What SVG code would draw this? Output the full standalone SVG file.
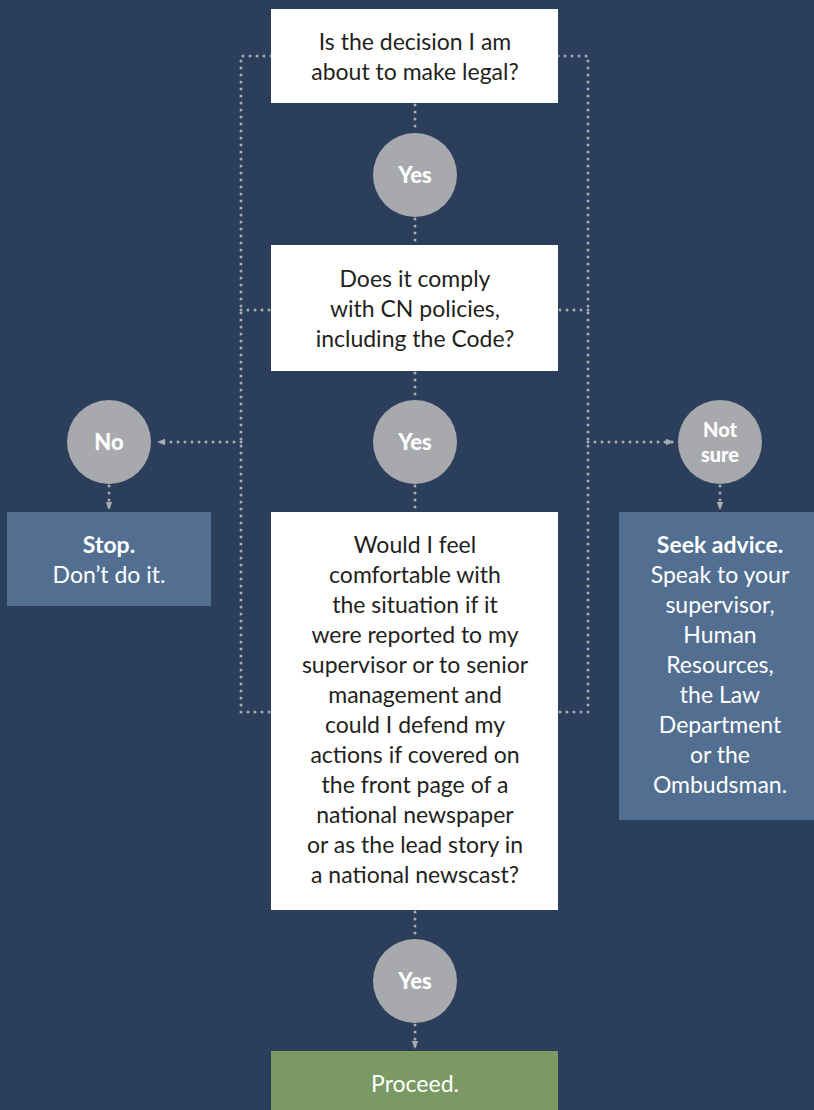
<svg xmlns="http://www.w3.org/2000/svg" width="814" height="1110" viewBox="0 0 814 1110">
<defs>
<style>
.bg{fill:#2b3f5c}
.q{fill:#ffffff}
.act{fill:#526f91}
.go{fill:#7a9963}
.c{fill:#a7a9ac}
.dot{fill:none;stroke:#a9abae;stroke-width:3;stroke-linecap:round;stroke-dasharray:0 7}
.t{font-family:Lato,"Noto Sans",sans-serif;font-size:23px;text-anchor:middle}
.dark{fill:#231f20}
.w{fill:#ffffff}
.b{font-weight:bold}
.cl{font-size:22px;font-weight:900}
.cs{font-size:20px;font-weight:900}
</style>
<marker id="ah" viewBox="0 0 8 8" refX="8" refY="4" markerWidth="8" markerHeight="8" markerUnits="userSpaceOnUse" orient="auto">
<path d="M0,0.8 L8,4 L0,7.2 Z" fill="#a9abae"/>
</marker>
</defs>
<rect class="bg" x="0" y="0" width="814" height="1110"/>
<g id="connectors">
<path class="dot" d="M271,56 H241 V712 H271"/>
<path class="dot" d="M241,310 H271"/>
<path class="dot" d="M558,56 H588 V712 H558"/>
<path class="dot" d="M588,310 H558"/>
<line class="dot" x1="241" y1="442" x2="157" y2="442" marker-end="url(#ah)"/>
<line class="dot" x1="588" y1="442" x2="674" y2="442" marker-end="url(#ah)"/>
<line class="dot" x1="109" y1="486" x2="109" y2="510" marker-end="url(#ah)"/>
<line class="dot" x1="720" y1="486" x2="720" y2="510" marker-end="url(#ah)"/>
<line class="dot" x1="415" y1="105" x2="415" y2="133"/>
<line class="dot" x1="415" y1="219" x2="415" y2="245"/>
<line class="dot" x1="415" y1="373" x2="415" y2="400"/>
<line class="dot" x1="415" y1="486" x2="415" y2="512"/>
<line class="dot" x1="415" y1="912" x2="415" y2="939"/>
<line class="dot" x1="415" y1="1025" x2="415" y2="1049" marker-end="url(#ah)"/>
</g>
<g id="q1">
<rect class="q" x="271" y="9" width="287" height="94"/>
<text class="t dark" x="415" y="50">Is the decision I am</text>
<text class="t dark" x="415" y="80">about to make legal?</text>
</g>
<g id="yes1">
<circle class="c" cx="415" cy="175" r="42"/>
<text class="t w cl" x="415" y="183">Yes</text>
</g>
<g id="q2">
<rect class="q" x="271" y="245" width="287" height="126"/>
<text class="t dark" x="415" y="287">Does it comply</text>
<text class="t dark" x="415" y="317">with CN policies,</text>
<text class="t dark" x="415" y="347">including the Code?</text>
</g>
<g id="yes2">
<circle class="c" cx="415" cy="442" r="42"/>
<text class="t w cl" x="415" y="450">Yes</text>
</g>
<g id="no">
<circle class="c" cx="109" cy="442" r="42"/>
<text class="t w cl" x="109" y="450">No</text>
</g>
<g id="notsure">
<circle class="c" cx="720" cy="442" r="42"/>
<text class="t w cs" x="720" y="437">Not</text>
<text class="t w cs" x="720" y="462">sure</text>
</g>
<g id="stop">
<rect class="act" x="7" y="512" width="204" height="94"/>
<text class="t w b" x="109" y="553">Stop.</text>
<text class="t w" x="109" y="583">Don’t do it.</text>
</g>
<g id="advice">
<rect class="act" x="619" y="512" width="195" height="308"/>
<text class="t w b" x="720" y="553">Seek advice.</text>
<text class="t w" x="720" y="583">Speak to your</text>
<text class="t w" x="720" y="613">supervisor,</text>
<text class="t w" x="720" y="643">Human</text>
<text class="t w" x="720" y="673">Resources,</text>
<text class="t w" x="720" y="703">the Law</text>
<text class="t w" x="720" y="733">Department</text>
<text class="t w" x="720" y="763">or the</text>
<text class="t w" x="720" y="793">Ombudsman.</text>
</g>
<g id="q3">
<rect class="q" x="271" y="512" width="287" height="398"/>
<text class="t dark" x="415" y="553">Would I feel</text>
<text class="t dark" x="415" y="583">comfortable with</text>
<text class="t dark" x="415" y="613">the situation if it</text>
<text class="t dark" x="415" y="643">were reported to my</text>
<text class="t dark" x="415" y="673">supervisor or to senior</text>
<text class="t dark" x="415" y="703">management and</text>
<text class="t dark" x="415" y="733">could I defend my</text>
<text class="t dark" x="415" y="763">actions if covered on</text>
<text class="t dark" x="415" y="793">the front page of a</text>
<text class="t dark" x="415" y="823">national newspaper</text>
<text class="t dark" x="415" y="853">or as the lead story in</text>
<text class="t dark" x="415" y="883">a national newscast?</text>
</g>
<g id="yes3">
<circle class="c" cx="415" cy="981" r="42"/>
<text class="t w cl" x="415" y="989">Yes</text>
</g>
<g id="proceed">
<rect class="go" x="271" y="1051" width="287" height="59"/>
<text class="t w" x="415" y="1092">Proceed.</text>
</g>
</svg>
